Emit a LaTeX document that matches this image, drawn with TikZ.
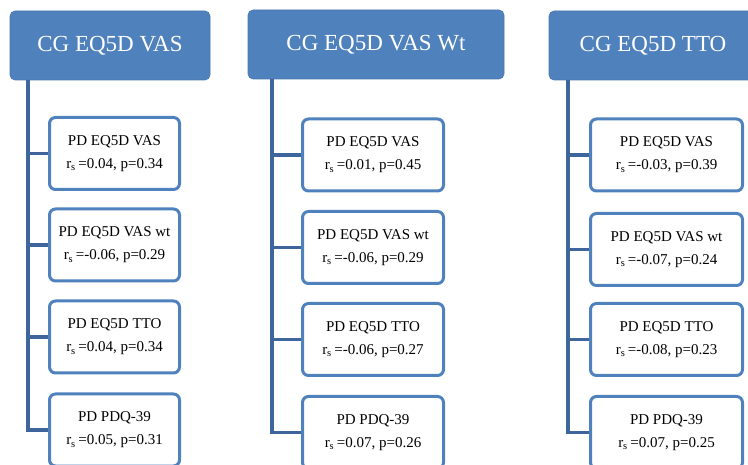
\documentclass[tikz,border=0pt]{standalone}
\usepackage{fontspec}
\setmainfont{Liberation Serif}
\usepackage{xcolor}

\definecolor{cgblue}{RGB}{79,129,189}
\definecolor{linkblue}{RGB}{62,102,156}

\begin{document}
\begin{tikzpicture}[x=1pt,y=-1pt,
    cg/.style={rectangle,rounded corners=5pt,fill=cgblue,draw=cgblue!92!black,line width=0.6pt,
        text=white,font=\fontsize{23}{27}\selectfont,minimum height=69pt,inner sep=0pt},
    pd/.style={rectangle,rounded corners=6pt,draw=cgblue,line width=3pt,fill=white,
        align=center,font=\fontsize{15}{23}\selectfont,minimum height=72pt,inner sep=0pt},
    link/.style={draw=linkblue,line width=3.6pt,line join=miter}]
    \useasboundingbox (0,0) rectangle (748,465);
    \clip (0,0) rectangle (748,465);

    % top boxes
    \node[cg,minimum width=200pt] (cg1) at (110,45.5) {CG EQ5D VAS};
    \node[cg,minimum width=256pt] (cg2) at (376,44.5) {CG EQ5D VAS Wt};
    \node[cg,minimum width=208pt] (cg3) at (653,45.5) {CG EQ5D TTO};

    % first column
    \node[pd,minimum width=130pt] (pd11) at (114.5,153.5) {PD EQ5D VAS\\r\textsubscript{s}\,=0.04, p=0.34};
    \node[pd,minimum width=130pt] (pd12) at (114.5,245) {PD EQ5D VAS wt\\r\textsubscript{s}\,=-0.06, p=0.29};
    \node[pd,minimum width=130pt] (pd13) at (114.5,337) {PD EQ5D TTO\\r\textsubscript{s}\,=0.04, p=0.34};
    \node[pd,minimum width=130pt] (pd14) at (114.5,430) {PD PDQ-39\\r\textsubscript{s}\,=0.05, p=0.31};

    % second column
    \node[pd,minimum width=141pt] (pd21) at (373,155) {PD EQ5D VAS\\r\textsubscript{s}\,=0.01, p=0.45};
    \node[pd,minimum width=141pt] (pd22) at (373,247.5) {PD EQ5D VAS wt\\r\textsubscript{s}\,=-0.06, p=0.29};
    \node[pd,minimum width=141pt] (pd23) at (373,339.5) {PD EQ5D TTO\\r\textsubscript{s}\,=-0.06, p=0.27};
    \node[pd,minimum width=141pt] (pd24) at (373,432.5) {PD PDQ-39\\r\textsubscript{s}\,=0.07, p=0.26};

    % third column
    \node[pd,minimum width=152pt] (pd31) at (666.5,155) {PD EQ5D VAS\\r\textsubscript{s}\,=-0.03, p=0.39};
    \node[pd,minimum width=152pt] (pd32) at (666.5,249.5) {PD EQ5D VAS wt\\r\textsubscript{s}\,=-0.07, p=0.24};
    \node[pd,minimum width=152pt] (pd33) at (666.5,339.5) {PD EQ5D TTO\\r\textsubscript{s}\,=-0.08, p=0.23};
    \node[pd,minimum width=152pt] (pd34) at (666.5,432.5) {PD PDQ-39\\r\textsubscript{s}\,=0.07, p=0.25};

    % trunks
    \coordinate (t1) at (28,0);
    \coordinate (t2) at (272,0);
    \coordinate (t3) at (568,0);

    \foreach \c in {1,2,3} {
        \draw[link] (cg\c.south -| t\c) -- (pd\c4.west -| t\c) -- (pd\c4.west);
        \foreach \r in {1,2,3}
            \draw[link] (pd\c\r.west -| t\c) -- (pd\c\r.west);
    }
\end{tikzpicture}
\end{document}
